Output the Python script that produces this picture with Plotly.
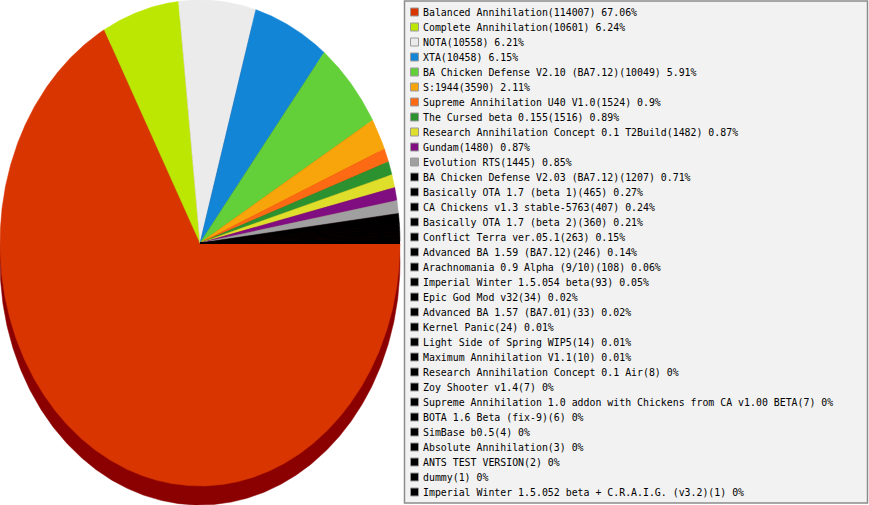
import numpy as np
import plotly.graph_objects as go

# ---- data ----
names = [
    "Balanced Annihilation", "Complete Annihilation", "NOTA", "XTA",
    "BA Chicken Defense V2.10 (BA7.12)", "S:1944", "Supreme Annihilation U40 V1.0",
    "The Cursed beta 0.155", "Research Annihilation Concept 0.1 T2Build", "Gundam",
    "Evolution RTS", "BA Chicken Defense V2.03 (BA7.12)", "Basically OTA 1.7 (beta 1)",
    "CA Chickens v1.3 stable-5763", "Basically OTA 1.7 (beta 2)", "Conflict Terra ver.05.1",
    "Advanced BA 1.59 (BA7.12)", "Arachnomania 0.9 Alpha (9/10)", "Imperial Winter 1.5.054 beta",
    "Epic God Mod v32", "Advanced BA 1.57 (BA7.01)", "Kernel Panic", "Light Side of Spring WIP5",
    "Maximum Annihilation V1.1", "Research Annihilation Concept 0.1 Air", "Zoy Shooter v1.4",
    "Supreme Annihilation 1.0 addon with Chickens from CA v1.00 BETA", "BOTA 1.6 Beta (fix-9)",
    "SimBase b0.5", "Absolute Annihilation", "ANTS TEST VERSION", "dummy",
    "Imperial Winter 1.5.052 beta + C.R.A.I.G. (v3.2)",
]
values = [
    114007, 10601, 10558, 10458, 10049, 3590, 1524, 1516, 1482, 1480, 1445, 1207,
    465, 407, 360, 263, 246, 108, 93, 34, 33, 24, 14, 10, 8, 7, 7, 6, 4, 3, 2, 1, 1,
]
colors = [
    "#d83500", "#bce702", "#ebebeb", "#1285d6", "#63cf39", "#f8a40b", "#fe6914",
    "#2c9230", "#dfdf2b", "#800e80", "#a0a0a0",
] + ["#000000"] * 22
depth_color = "#8b0000"

total = sum(values)
pcts = [round(v / total * 100, 2) for v in values]
labels = [f"{n}({v}) {p:g}%" for n, v, p in zip(names, values, pcts)]

fig = go.Figure()

# depth (side) of the elliptical pie
DEPTH = 19 / 243
t = np.linspace(0, 2 * np.pi, 721)
fig.add_trace(go.Scatter(
    x=np.cos(t), y=np.sin(t) - DEPTH, mode="lines", fill="toself",
    fillcolor=depth_color, line=dict(color=depth_color, width=0.5),
    hoverinfo="skip", showlegend=False, xaxis="x", yaxis="y",
))

# slices: clockwise from 3 o'clock
cum = np.concatenate([[0.0], np.cumsum(values)]) / total
for i, (lab, col) in enumerate(zip(labels, colors)):
    a0 = -2 * np.pi * cum[i]
    a1 = -2 * np.pi * cum[i + 1]
    n = max(2, int(abs(a1 - a0) / (2 * np.pi) * 1440) + 2)
    tt = np.linspace(a0, a1, n)
    xs = np.concatenate([[0.0], np.cos(tt), [0.0]])
    ys = np.concatenate([[0.0], np.sin(tt), [0.0]])
    fig.add_trace(go.Scatter(
        x=xs, y=ys, mode="lines", fill="toself", fillcolor=col,
        line=dict(color=col, width=0.5), name=lab,
        hoverinfo="name", showlegend=False, xaxis="x", yaxis="y",
    ))

# legend squares
idx = list(range(len(labels)))
fig.add_trace(go.Scatter(
    x=[0.0226] * len(idx), y=idx, mode="markers",
    marker=dict(symbol="square", size=8, color=colors,
                line=dict(color="#9a9a9a", width=1)),
    hoverinfo="skip", showlegend=False, xaxis="x2", yaxis="y2",
))

W, H = 869, 505
annotations = [
    dict(x=0.037, y=i, xref="x2", yref="y2", text=lab, showarrow=False,
         xanchor="left", yanchor="middle",
         font=dict(family="DejaVu Sans Mono", size=9.9, color="#000000"))
    for i, lab in enumerate(labels)
]

fig.update_layout(
    width=W, height=H,
    margin=dict(l=0, r=0, t=0, b=0),
    paper_bgcolor="white", plot_bgcolor="rgba(0,0,0,0)",
    showlegend=False,
    xaxis=dict(domain=[0, 401 / W], range=[-1, 1.005], visible=False, fixedrange=True),
    yaxis=dict(domain=[0, 1], range=[-(H - 243) / 243, 1.0], visible=False, fixedrange=True),
    xaxis2=dict(domain=[404 / W, 1], range=[0, 1], visible=False, anchor="y2", fixedrange=True),
    yaxis2=dict(domain=[0, 1], range=[(H - 12) / 15, -12 / 15], visible=False,
                anchor="x2", fixedrange=True),
    shapes=[dict(type="rect", xref="paper", yref="paper",
                 x0=404.5 / W, x1=867.5 / W, y0=(H - 503) / H, y1=(H - 1) / H,
                 fillcolor="#f2f2f2", line=dict(color="#8c8c8c", width=1.5),
                 layer="below")],
    annotations=annotations,
)

fig.write_html(
    "out.html",
    config={"displayModeBar": False},
    post_script="document.body.style.margin='0';document.body.style.padding='0';"
                "document.documentElement.style.overflow='hidden';",
)
